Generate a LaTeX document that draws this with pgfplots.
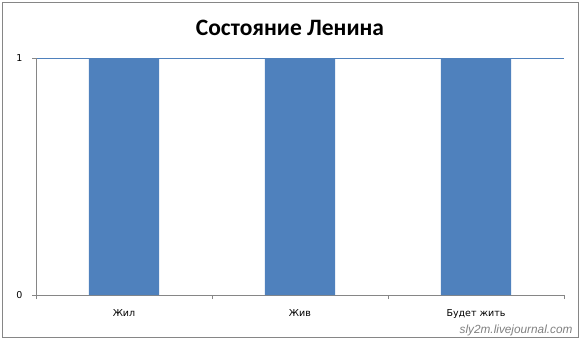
\documentclass[border=0pt]{standalone}
\usepackage{fontspec}
\setmainfont{Carlito}
\newfontfamily\wmfont{Liberation Sans}
\newfontfamily\tkfont{DejaVu Sans}
\usepackage{pgfplots}
\pgfplotsset{compat=1.18}
\definecolor{barblue}{HTML}{4F81BD}
\definecolor{axgray}{HTML}{868686}
\begin{document}
\begin{tikzpicture}[x=1pt,y=1pt]
\useasboundingbox (0,0) rectangle (581,341);
\draw[axgray, line width=0.8pt] (2.5,3.5) rectangle (578.5,339);
\node[font=\bfseries\fontsize{23.5}{28}\selectfont] at (290,313) {Состояние Ленина};
\begin{axis}[at={(36pt,46pt)}, anchor=south west, scale only axis,
  width=528pt, height=237pt,
  xmin=-0.5, xmax=2.5, ymin=0, ymax=1,
  axis lines*=left, axis line style={axgray},
  xtick={0,1,2}, xticklabels={Жил,Жив,Будет жить},
  major x tick style={draw=none},
  extra x ticks={-0.5,0.5,1.5,2.5}, extra x tick labels={},
  extra x tick style={major tick length=4pt, tick align=outside, major x tick style={draw=axgray}},
  ytick={0,1}, ytick style={draw=axgray}, tick align=outside, major tick length=4pt,
  ymajorgrids, grid style={barblue},
  xticklabel style={font=\tkfont\fontsize{9.5}{12}\selectfont, anchor=base, yshift=-17pt},
  yticklabel style={font=\tkfont\fontsize{9.5}{12}\selectfont, xshift=-6pt},
  /pgf/number format/assume math mode=true,
  clip=false,
]
\addplot[ybar, bar width=0.4, fill=barblue, draw=none] coordinates {(0,1) (1,1) (2,1)};
\end{axis}
\node[anchor=base east, font=\wmfont\itshape\fontsize{11.8}{14}\selectfont, text=gray] at (576,8) {sly2m.livejournal.com};
\end{tikzpicture}
\end{document}
